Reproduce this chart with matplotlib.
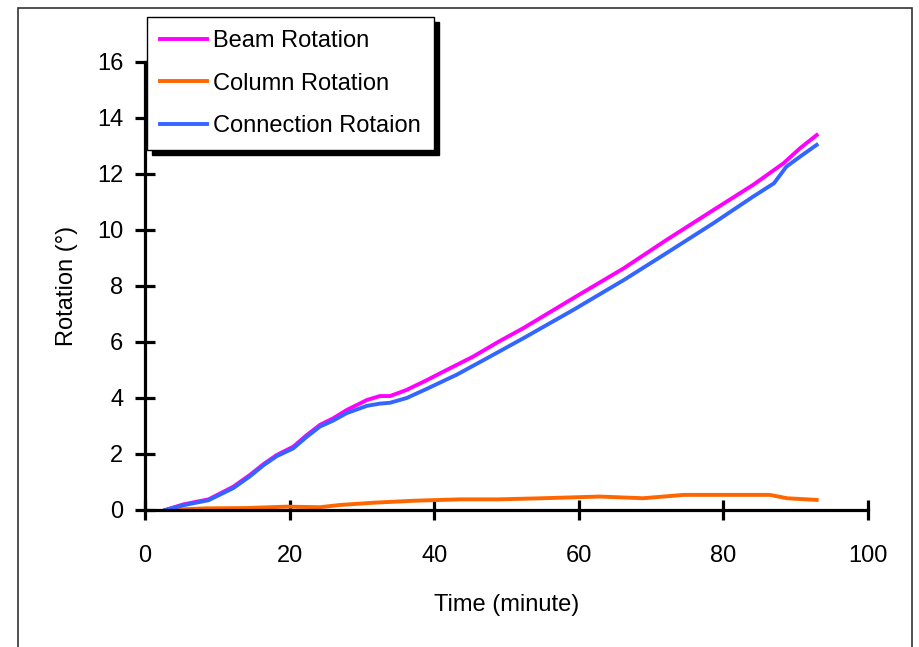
import matplotlib
matplotlib.use("Agg")
import matplotlib.pyplot as plt
from matplotlib.patches import Rectangle

# values
beam_t = [2.8, 5.3, 8.8, 12.2, 14.5, 16.4, 18.2, 20.5, 22.4, 24.2, 26.0, 27.9, 30.7,
          32.5, 33.9, 36.2, 39.0, 40.8, 43.1, 45.4, 48.9, 52.3, 59.2, 66.2, 72.1,
          78.6, 84.1, 88.3, 90.6, 92.9]
beam_rot = [0.0, 0.2, 0.38, 0.83, 1.25, 1.64, 1.96, 2.26, 2.68, 3.04, 3.27, 3.57, 3.93,
            4.07, 4.07, 4.29, 4.64, 4.88, 5.18, 5.48, 6.01, 6.49, 7.56, 8.63, 9.64,
            10.71, 11.61, 12.38, 12.92, 13.39]

conn_t = [2.8, 5.3, 8.8, 12.2, 14.5, 16.4, 18.2, 20.5, 22.4, 24.2, 26.0, 27.9, 30.7,
          32.5, 33.9, 36.2, 39.0, 40.8, 43.1, 47.3, 52.3, 59.2, 66.2, 72.1, 78.6,
          84.1, 87.0, 88.7, 90.6, 92.9]
conn_rot = [0.0, 0.17, 0.35, 0.78, 1.2, 1.6, 1.92, 2.2, 2.62, 2.98, 3.19, 3.46, 3.72,
            3.8, 3.83, 4.0, 4.33, 4.55, 4.83, 5.42, 6.13, 7.14, 8.21, 9.17, 10.24,
            11.19, 11.67, 12.26, 12.62, 13.04]

col_t = [2.8, 8.5, 14.0, 19.6, 24.2, 27.0, 31.6, 37.1, 43.6, 48.9, 55.0, 62.9, 68.9,
         74.5, 80.0, 86.4, 88.8, 92.9]
col_rot = [0.0, 0.06, 0.07, 0.12, 0.1, 0.18, 0.26, 0.33, 0.38, 0.38, 0.42, 0.48, 0.42,
           0.54, 0.54, 0.54, 0.42, 0.36]

x_ticks = [0, 20, 40, 60, 80, 100]
y_ticks = [0, 2, 4, 6, 8, 10, 12, 14, 16]

plt.rcParams["font.family"] = ["Liberation Sans", "DejaVu Sans"]
fs = 17

fig = plt.figure(figsize=(9.2, 6.47), dpi=100)
ax = fig.add_axes([145 / 920, 1 - 510 / 647, 723 / 920, 448 / 647])

ax.plot(beam_t, beam_rot, color="#FF00FF", lw=2.8, label="Beam Rotation")
ax.plot(col_t, col_rot, color="#FF6600", lw=2.8, label="Column Rotation")
ax.plot(conn_t, conn_rot, color="#3366FF", lw=2.8, label="Connection Rotaion")

ax.set_xlim(0, 100)
ax.set_ylim(0, 16)
ax.set_xticks(x_ticks)
ax.set_yticks(y_ticks)
for s in ["top", "right"]:
    ax.spines[s].set_visible(False)
for s in ["left", "bottom"]:
    ax.spines[s].set_linewidth(2.3)
ax.tick_params(direction="inout", length=15, width=2.3, labelsize=fs)
ax.tick_params(axis="x", pad=18)
ax.tick_params(axis="y", pad=8)
ax.set_xlabel("Time (minute)", fontsize=fs, labelpad=19)
ax.set_ylabel("Rotation (°)", fontsize=fs, labelpad=14)

leg = ax.legend(loc="upper left", bbox_to_anchor=(147 / 920, 1 - 17 / 647),
                bbox_transform=fig.transFigure, borderaxespad=0, fancybox=False,
                edgecolor="black", framealpha=1, fontsize=fs, handlelength=2.0,
                handletextpad=0.25, labelspacing=0.87, borderpad=0.55,
                shadow={"color": "black", "alpha": 1, "ox": 3.6, "oy": -3.6})
leg.get_frame().set_linewidth(1)

# outer border of the chart area
fig.patches.append(Rectangle((18 / 920, -0.05), 894 / 920, 1 - 8 / 647 + 0.05,
                             transform=fig.transFigure, fill=False,
                             edgecolor="#333333", lw=1.2))

fig.savefig("out.png", dpi=100)
